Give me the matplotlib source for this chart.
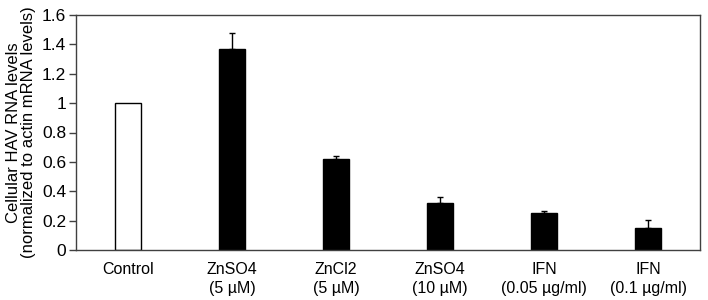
import matplotlib
matplotlib.use("Agg")
import matplotlib.pyplot as plt
import numpy as np

categories = ["Control", "ZnSO4\n(5 µM)", "ZnCl2\n(5 µM)", "ZnSO4\n(10 µM)",
              "IFN\n(0.05 µg/ml)", "IFN\n(0.1 µg/ml)"]
values = [1.0, 1.366, 0.622, 0.322, 0.25, 0.148]
errors = [0.0, 0.113, 0.02, 0.041, 0.013, 0.054]
colors = ["white", "black", "black", "black", "black", "black"]
yticks = [0, 0.2, 0.4, 0.6, 0.8, 1, 1.2, 1.4, 1.6]
yticklabels = ["0", "0.2", "0.4", "0.6", "0.8", "1", "1.2", "1.4", "1.6"]

plt.rcParams['font.family'] = ['Liberation Sans', 'DejaVu Sans']

fig = plt.figure(figsize=(7.08, 3.0), dpi=100)
ax = fig.add_axes([76/708, 1 - 250/300, (700-76)/708, (250-15)/300])

x = np.arange(len(categories)) + 0.5
vals = np.array(values)
errs = np.array(errors)
ax.bar(x, vals, width=0.25, color=colors, edgecolor="black", linewidth=1.0, zorder=2)
m = errs > 0
ax.errorbar(x[m], vals[m], yerr=[np.zeros(m.sum()), errs[m]], fmt="none",
            ecolor="black", elinewidth=1.0, capsize=2.0, capthick=1.0, zorder=3)

ax.set_xlim(0, len(categories))
ax.set_ylim(0, 1.6)
ax.set_yticks(yticks)
ax.set_yticklabels(yticklabels, fontsize=12.5)
ax.set_xticks(x)
ax.set_xticklabels(categories, fontsize=11.5, linespacing=1.25)
ax.tick_params(axis="x", length=0, pad=9)
ax.tick_params(axis="y", length=5, direction="out", width=1, color="#404040", pad=2)
for s in ax.spines.values():
    s.set_color("#404040")
    s.set_linewidth(1.0)
ax.set_ylabel("Cellular HAV RNA levels\n(normalized to actin mRNA levels)", fontsize=12,
              linespacing=1.05, labelpad=4)

fig.savefig("out.png", dpi=100)
